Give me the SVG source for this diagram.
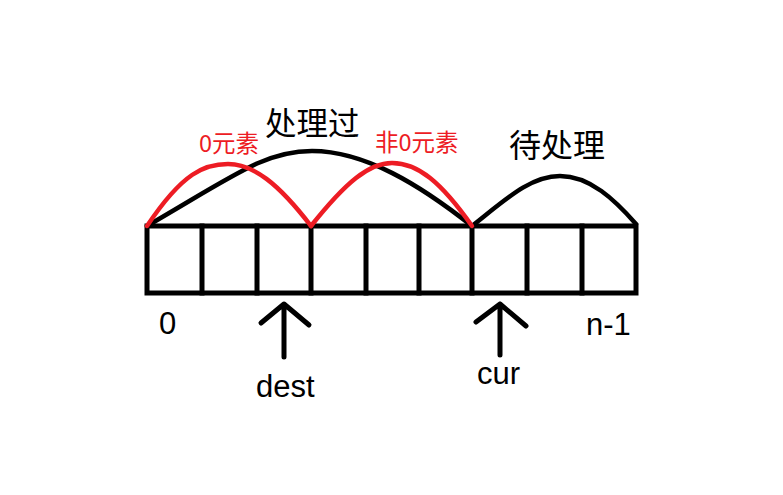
<svg xmlns="http://www.w3.org/2000/svg" width="783" height="495" viewBox="0 0 783 495">
<style>
.ln{fill:none;stroke:#000;stroke-width:5;stroke-linecap:square}
.arc{fill:none;stroke:#000;stroke-width:4.5;stroke-linecap:round}
.red{fill:none;stroke:#ed1c24;stroke-width:4.5;stroke-linecap:round}
.t{font-family:"Liberation Sans","Noto Sans CJK SC",sans-serif;fill:#000}
.cj{font-family:"Noto Sans CJK SC",sans-serif;fill:#000}
.rt{font-family:"Noto Sans CJK SC",sans-serif;fill:#ed1c24}
.ar{fill:none;stroke:#000;stroke-width:5;stroke-linecap:round;stroke-linejoin:round}
</style>
<rect width="783" height="495" fill="#fff"/>
<g id="array">
<rect class="ln" x="147" y="226" width="489" height="67"/>
<path class="ln" d="M202,226V293M257,226V293M311,226V293M366,226V293M419,226V293M472,226V293M527,226V293M582,226V293"/>
</g>
<g id="connectors">
<path class="arc" d="M147,226 C235,175 265,151 312,151 C365,151 420,185 472,226"/>
<path class="arc" d="M472,226 C505,200 530,176 560,176 C590,176 615,200 636,224"/>
<path class="red" d="M147,226 C183,172 205,164 228,164 C253,164 278,183 311,226"/>
<path class="red" d="M311,226 C346,182 369,163 392,163 C418,163 441,182 472,226"/>
<path class="ar" d="M284,357V304M261,323L284,304L309,325"/>
<path class="ar" d="M500,355V304M476,322L500,304L526,326"/>
</g>
<g id="label-processed"><text class="cj" x="265" y="135" font-size="31.5">处理过</text></g>
<g id="label-pending"><text class="cj" x="509" y="157" font-size="32">待处理</text></g>
<g id="label-zero"><text class="rt" x="199" y="152" font-size="23.5">0元素</text></g>
<g id="label-nonzero"><text class="rt" x="375" y="151" font-size="23.5">非0元素</text></g>
<g id="label-0"><text class="t" x="159" y="334" font-size="31">0</text></g>
<g id="label-n1"><text class="t" x="586" y="335" font-size="31">n-1</text></g>
<g id="label-dest"><text class="t" x="256" y="397" font-size="31">dest</text></g>
<g id="label-cur"><text class="t" x="477" y="384" font-size="31">cur</text></g>
</svg>
